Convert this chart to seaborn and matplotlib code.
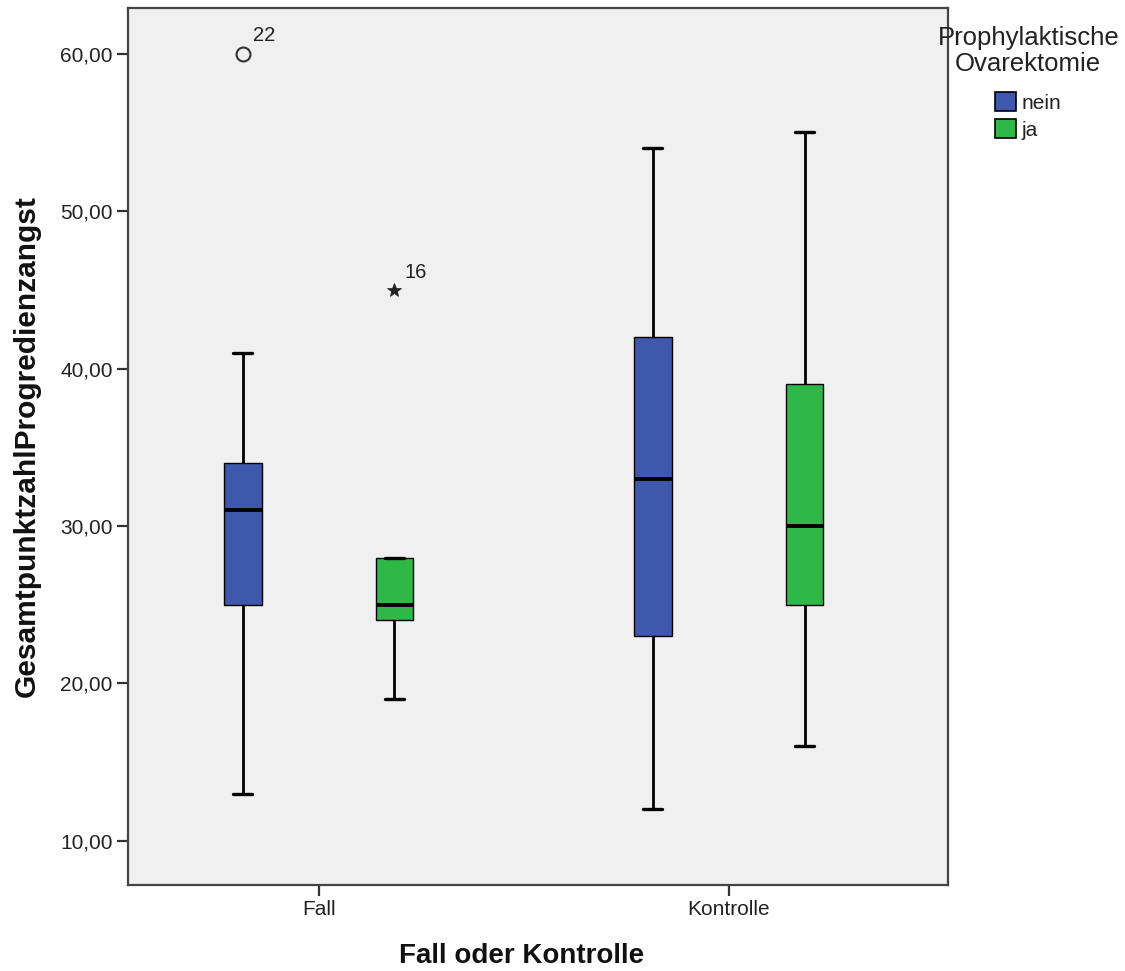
import numpy as np
import pandas as pd
import matplotlib
matplotlib.use("Agg")
import matplotlib.pyplot as plt
import seaborn as sns
from matplotlib.patches import Patch
from matplotlib.ticker import FixedLocator, FuncFormatter

# ---------------- data ----------------
groups = ["Fall", "Kontrolle"]
hue_levels = ["nein", "ja"]
# representative samples reproducing each box's five-number summary and outliers
fall_nein = [13, 20, 25, 28, 31, 33, 34, 41, 60]
fall_ja = [19, 24, 24, 25, 25, 27, 28, 28, 45]
kontrolle_nein = [12, 18, 23, 28, 33, 38, 42, 48, 54]
kontrolle_ja = [16, 20, 25, 28, 30, 35, 39, 47, 55]
# outlier case labels (value -> case number) and extreme values (drawn as stars)
outlier_labels = {60: "22", 45: "16"}
extreme_values = [45]
y_ticks = [10, 20, 30, 40, 50, 60]

x_label = "Fall oder Kontrolle"
y_label = "GesamtpunktzahlProgredienzangst"
legend_title = "Prophylaktische\nOvarektomie"

rows = []
for g, h, vals in [("Fall", "nein", fall_nein), ("Fall", "ja", fall_ja),
                   ("Kontrolle", "nein", kontrolle_nein), ("Kontrolle", "ja", kontrolle_ja)]:
    for v in vals:
        rows.append({"group": g, "po": h, "score": v})
df = pd.DataFrame(rows)

palette = {"nein": "#3E58AC", "ja": "#2EB848"}

# ---------------- figure ----------------
sns.set_theme(style="white")
plt.rcParams["font.family"] = ["Liberation Sans", "DejaVu Sans"]

fig = plt.figure(figsize=(11.25, 9.71), dpi=100)
ax = fig.add_axes([128 / 1125, 1 - 885 / 971, 820 / 1125, 877 / 971])
ax.set_facecolor("#F0F0F0")

sns.boxplot(
    data=df, x="group", y="score", hue="po",
    order=groups, hue_order=hue_levels, palette=palette,
    width=0.74, gap=0.75, whis=1.5, saturation=1,
    linecolor="black", linewidth=1.0,
    medianprops=dict(color="black", linewidth=2.8),
    whiskerprops=dict(color="black", linewidth=2.0),
    capprops=dict(color="black", linewidth=2.4),
    flierprops=dict(marker="o", markersize=10, markerfacecolor="none",
                    markeredgecolor="#333333", markeredgewidth=1.5),
    legend=False, ax=ax,
)

# outliers: star for extremes, plus case labels
flier_lines = []
for c in ax.containers:
    if hasattr(c, "fliers"):
        flier_lines.extend(list(c.fliers))
for ln in flier_lines:
    xs, ys = ln.get_xdata(), ln.get_ydata()
    if len(ys) == 0:
        continue
    if any(float(y) in extreme_values for y in ys):
        ln.set_marker("*")
        ln.set_markersize(10)
        ln.set_markerfacecolor("#222222")
        ln.set_markeredgecolor("#222222")
        ln.set_markeredgewidth(0.5)
    for x, y in zip(xs, ys):
        lab = outlier_labels.get(int(round(float(y))))
        if lab:
            ax.annotate(lab, (x, y), xytext=(7, 6), textcoords="offset points",
                        fontsize=14.5, color="#222222", ha="left", va="bottom")

ax.set_xlim(-0.465, 1.535)
ax.set_ylim(7.2, 62.9)
ax.yaxis.set_major_locator(FixedLocator(y_ticks))
ax.yaxis.set_major_formatter(FuncFormatter(lambda v, p: f"{v:.2f}".replace(".", ",")))

ax.tick_params(axis="both", which="major", direction="out", length=8, width=1.6,
               color="#333333", labelsize=15, labelcolor="#222222", pad=3,
               left=True, bottom=True)
for s in ax.spines.values():
    s.set_color("#444444")
    s.set_linewidth(1.6)

ax.set_xlabel(x_label, fontsize=20, fontweight="bold", color="#111111", va="top")
ax.set_ylabel(y_label, fontsize=21.5, fontweight="bold", color="#111111")
ax.xaxis.set_label_coords(0.48, -0.066)
ax.yaxis.set_label_coords(-0.107, 0.5)

handles = [Patch(facecolor=palette[h], edgecolor="black", linewidth=1.2) for h in hue_levels]
leg = fig.legend(handles, hue_levels, title=legend_title, loc="upper center",
                 bbox_to_anchor=(0.914, 0.982), frameon=False, fontsize=15,
                 title_fontsize=18.5, handlelength=1.0, handleheight=1.0,
                 handletextpad=0.3, labelspacing=0.3, borderaxespad=0)
leg._legend_box.sep = 12
leg.get_title().set_multialignment("center")
leg.get_title().set_color("#222222")
leg.get_title().set_linespacing(1.1)
for t in leg.get_texts():
    t.set_color("#222222")

fig.savefig("out.png", dpi=100, facecolor="white")
